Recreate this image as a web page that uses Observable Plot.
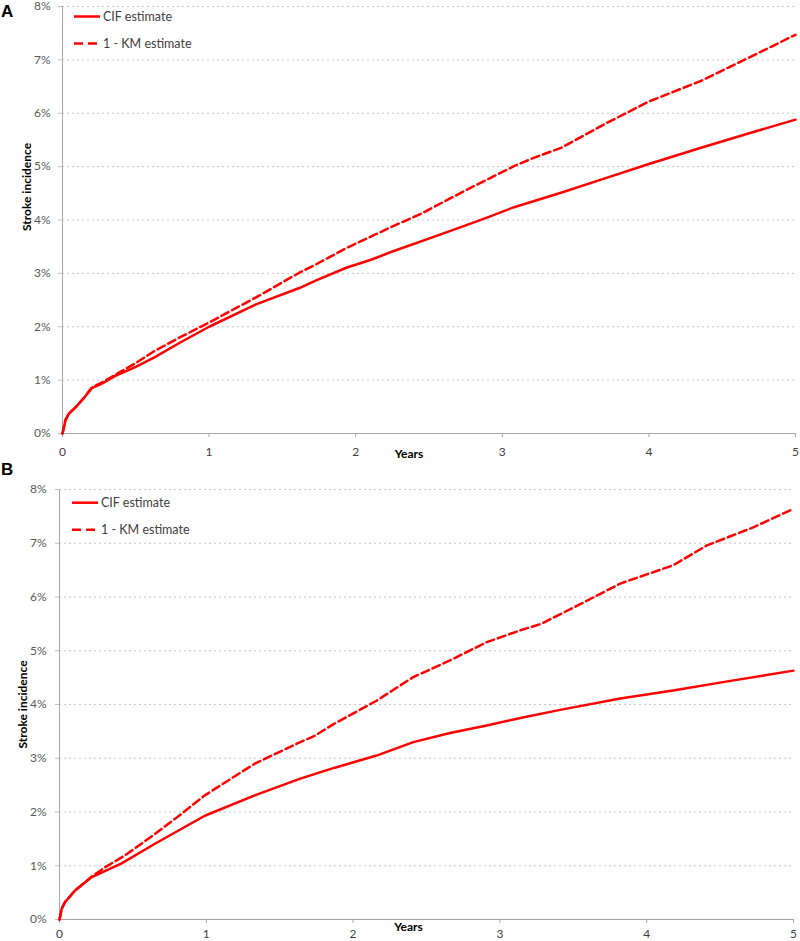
<!DOCTYPE html>
<html><head><meta charset="utf-8">
<script src="https://cdn.jsdelivr.net/npm/d3@7"></script>
<script src="https://cdn.jsdelivr.net/npm/@observablehq/plot@0.6"></script>
<style>
body{margin:0;background:#fff;width:800px;height:941px;overflow:hidden;font-family:Lato,"Noto Sans",sans-serif}
svg{display:block}
</style></head><body><div id="chart"></div>
<script>
const yearTicks = [0, 1, 2, 3, 4, 5];
const pctTicks = [0, 1, 2, 3, 4, 5, 6, 7, 8];
const seriesNames = ["CIF estimate", "1 - KM estimate"];
const panelLetters = ["A", "B"];
const xAxisTitle = "Years";
const yAxisTitle = "Stroke incidence";

// Panel A
const aCifYears = [0, 0.02, 0.043, 0.089, 0.15, 0.2, 0.28, 0.36, 0.5, 0.63, 0.8, 1.0, 1.32, 1.62, 1.73, 1.94, 2.1, 2.26, 2.58, 2.76, 2.9, 3.08, 3.4, 3.7, 4.0, 4.35, 4.69, 5.0];
const aCifValues = [0, 0.25, 0.37, 0.49, 0.68, 0.85, 0.95, 1.08, 1.25, 1.43, 1.7, 2.0, 2.42, 2.73, 2.87, 3.11, 3.25, 3.42, 3.73, 3.91, 4.05, 4.24, 4.51, 4.78, 5.05, 5.35, 5.63, 5.88];
const aKmYears = [0, 0.02, 0.043, 0.089, 0.15, 0.2, 0.28, 0.36, 0.5, 0.63, 0.8, 1.0, 1.32, 1.62, 1.73, 1.94, 2.26, 2.44, 2.76, 3.08, 3.21, 3.4, 3.7, 4.0, 4.35, 4.65, 5.0];
const aKmValues = [0, 0.25, 0.37, 0.49, 0.68, 0.86, 0.97, 1.1, 1.32, 1.55, 1.8, 2.08, 2.55, 3.02, 3.17, 3.48, 3.89, 4.11, 4.57, 5.01, 5.16, 5.35, 5.8, 6.22, 6.6, 7.0, 7.47];

// Panel B
const bCifYears = [0, 0.015, 0.037, 0.106, 0.22, 0.42, 0.65, 0.99, 1.33, 1.64, 1.87, 2.16, 2.41, 2.66, 2.91, 3.14, 3.41, 3.82, 4.18, 4.55, 5.0];
const bCifValues = [0, 0.2, 0.32, 0.54, 0.79, 1.04, 1.41, 1.93, 2.31, 2.62, 2.82, 3.05, 3.3, 3.47, 3.61, 3.75, 3.9, 4.11, 4.26, 4.43, 4.63];
const bKmYears = [0, 0.015, 0.037, 0.106, 0.22, 0.31, 0.45, 0.65, 0.8, 0.99, 1.33, 1.5, 1.64, 1.74, 1.87, 2.16, 2.41, 2.66, 2.91, 3.14, 3.28, 3.55, 3.82, 4.18, 4.41, 4.73, 5.0];
const bKmValues = [0, 0.2, 0.32, 0.54, 0.8, 0.97, 1.2, 1.59, 1.9, 2.31, 2.9, 3.12, 3.3, 3.42, 3.64, 4.07, 4.51, 4.82, 5.16, 5.38, 5.5, 5.87, 6.25, 6.59, 6.96, 7.3, 7.64];

const zip = (xs, ys) => xs.map((t, i) => ({t, v: ys[i]}));
const RED = "#ff0000";
const FONT = 'Lato, "Noto Sans", sans-serif';

function makePanel(cfg) {
  const cif = zip(cfg.cifYears, cfg.cifValues);
  const km = zip(cfg.kmYears, cfg.kmValues);
  const svg = Plot.plot({
    width: 800, height: cfg.height,
    marginTop: cfg.mt, marginBottom: cfg.mb, marginLeft: cfg.ml, marginRight: cfg.mr,
    style: {fontFamily: FONT, fontSize: "12px", color: "#595959", background: "white", overflow: "visible"},
    x: {domain: [0, 5]},
    y: {domain: [0, 8]},
    marks: [
      Plot.gridY(pctTicks.slice(1), {stroke: "#c6c6c6", strokeOpacity: 1, strokeDasharray: "2,3"}),
      Plot.axisY({ticks: pctTicks, tickSize: 4, tickPadding: cfg.yPad, tickFormat: d => d + "%", stroke: "#bfbfbf", fill: "#595959", label: null}),
      Plot.axisX({ticks: yearTicks, tickSize: 4, tickPadding: cfg.xPad, tickFormat: d => String(d), stroke: "#a6a6a6", fill: "#404040", label: null}),
      Plot.ruleX([0], {stroke: "#a6a6a6"}),
      Plot.ruleY([0], {stroke: "#a6a6a6"}),
      Plot.line(cif, {x: "t", y: "v", stroke: RED, strokeWidth: 2.5, curve: "linear"}),
      Plot.line(km, {x: "t", y: "v", stroke: RED, strokeWidth: 2.5, strokeDasharray: "8,4", curve: "linear"}),
      Plot.text([xAxisTitle], {text: d => d, frameAnchor: "bottom", lineAnchor: "middle", textAnchor: "middle", dx: cfg.yearsDx, dy: cfg.yearsDy, fontWeight: "bold", fill: "#000", fontSize: 12}),
      Plot.text([yAxisTitle], {text: d => d, frameAnchor: "left", lineAnchor: "middle", textAnchor: "middle", rotate: -90, dx: cfg.ylabDx, dy: cfg.ylabDy, fontWeight: "bold", fill: "#000", fontSize: 12})
    ]
  });
  const s = d3.select(svg);
  // panel letter
  s.append("text").attr("x", 1).attr("y", cfg.letterY).attr("text-anchor", "start")
    .attr("font-family", '"Liberation Sans", Arial, sans-serif')
    .attr("font-weight", "bold").attr("font-size", 17).attr("fill", "#000").text(cfg.letter);
  // legend
  const lg = s.append("g").attr("font-family", FONT).attr("font-size", 12.5).attr("fill", "#404040").attr("text-anchor", "start");
  seriesNames.forEach((name, i) => {
    const y = cfg.legY + i * 27;
    lg.append("line").attr("x1", cfg.legX).attr("x2", cfg.legX + 26).attr("y1", y).attr("y2", y)
      .attr("stroke", RED).attr("stroke-width", 2.5).attr("stroke-dasharray", i === 1 ? "9,5" : null);
    lg.append("text").attr("x", cfg.legX + 29).attr("y", y).attr("dy", "0.35em").text(name);
  });
  return svg;
}

const root = document.getElementById("chart");
root.appendChild(makePanel({
  letter: panelLetters[0], cifYears: aCifYears, cifValues: aCifValues, kmYears: aKmYears, kmValues: aKmValues,
  height: 460, mt: 6, mb: 27, ml: 62, mr: 5, yPad: 8, xPad: 10,
  yearsDx: -20, yearsDy: 21, ylabDx: -35, ylabDy: -33, letterY: 17, legX: 74, legY: 16.5
}));
root.appendChild(makePanel({
  letter: panelLetters[1], cifYears: bCifYears, cifValues: bCifValues, kmYears: bKmYears, kmValues: bKmValues,
  height: 481, mt: 29, mb: 22, ml: 59, mr: 7, yPad: 9, xPad: 6,
  yearsDx: -18, yearsDy: 8, ylabDx: -36, ylabDy: 0, letterY: 15, legX: 72, legY: 42.7
}));
</script>
</body></html>
